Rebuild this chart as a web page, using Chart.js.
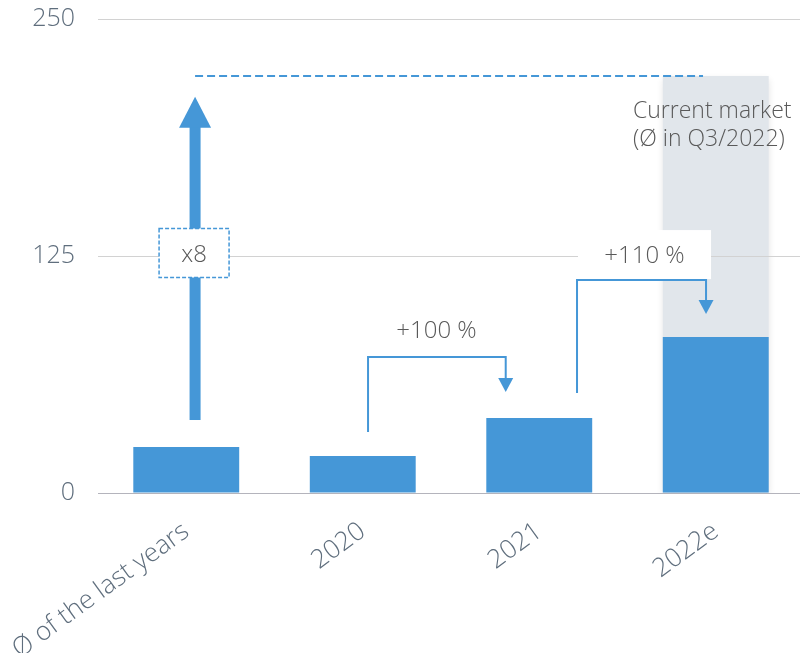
<!DOCTYPE html>
<html>
<head>
<meta charset="utf-8">
<script src="https://cdn.jsdelivr.net/npm/chart.js@4/dist/chart.umd.min.js"></script>
<style>
  html, body { margin: 0; padding: 0; background: #fff; overflow: hidden; }
  #wrap { width: 806px; height: 653px; }
</style>
</head>
<body>
<div id="wrap"><canvas id="c" width="806" height="653"></canvas></div>
<script>
// Market volume by period
const categories = ['Ø of the last years', '2020', '2021', '2022e'];
const volumes = [24.3, 19.5, 39.6, 82.3];
const currentMarket = [null, null, null, 220];
const yTicks = [0, 125, 250];

// Growth annotations (values in axis units)
const multiplierLabel = 'x8';
const multiplierArrow = [38.5, 209];          // shaft start, arrow tip
const growthLabels = ['+100 %', '+110 %'];
const growthSteps = [[32.2, 71.7, 53.3], [52.7, 112.3, 94.4]]; // start, bend, tip
const marketNote = ['Current market', '(Ø in Q3/2022)'];

const BLUE = '#4597d7';
const GRAY_BAND = '#e1e6eb';
const AXIS_TEXT = '#5f6e7d';
const NOTE_TEXT = '#595959';
const FONT = '"Open Sans", "Liberation Sans", sans-serif';
const WEIGHT = '350';

const bandShadow = {
  id: 'bandShadow',
  beforeDatasetDraw(chart, args) {
    if (args.index !== 1) return;
    const ctx = chart.ctx;
    ctx.save();
    ctx.shadowColor = 'rgba(0,0,0,0.12)';
    ctx.shadowBlur = 7;
    ctx.shadowOffsetY = 3;
  },
  afterDatasetDraw(chart, args) {
    if (args.index === 1) chart.ctx.restore();
  }
};

function stepArrow(ctx, x0, y0, yTop, x1, yTip) {
  const headW = 15, headH = 14;
  ctx.strokeStyle = BLUE;
  ctx.fillStyle = BLUE;
  ctx.lineWidth = 2;
  ctx.beginPath();
  ctx.moveTo(x0, y0);
  ctx.lineTo(x0, yTop);
  ctx.lineTo(x1, yTop);
  ctx.lineTo(x1, yTip - headH + 1);
  ctx.stroke();
  ctx.beginPath();
  ctx.moveTo(x1, yTip);
  ctx.lineTo(x1 - headW / 2, yTip - headH);
  ctx.lineTo(x1 + headW / 2, yTip - headH);
  ctx.closePath();
  ctx.fill();
}

const annotations = {
  id: 'annotations',
  afterDraw(chart) {
    const { ctx, scales: { x, y } } = chart;
    const cw = x.getPixelForValue(1) - x.getPixelForValue(0);
    const px = (i, f) => x.getPixelForValue(i) + f * cw;
    ctx.save();

    // dashed current-market level
    const mx = px(0, 0.05);
    const my = y.getPixelForValue(currentMarket[3]);
    ctx.strokeStyle = BLUE;
    ctx.lineWidth = 2;
    ctx.setLineDash([8, 4]);
    ctx.beginPath();
    ctx.moveTo(mx, my);
    ctx.lineTo(px(3, -0.072), my);
    ctx.stroke();
    ctx.setLineDash([]);

    // multiplier arrow
    const yb = y.getPixelForValue(multiplierArrow[0]);
    const yt = y.getPixelForValue(multiplierArrow[1]);
    const headH = 31, headW = 32, shaft = 11;
    ctx.fillStyle = BLUE;
    ctx.fillRect(mx - shaft / 2, yt + headH - 1, shaft, yb - yt - headH + 1);
    ctx.beginPath();
    ctx.moveTo(mx, yt);
    ctx.lineTo(mx + headW / 2, yt + headH);
    ctx.lineTo(mx - headW / 2, yt + headH);
    ctx.closePath();
    ctx.fill();

    // multiplier box
    const ly = y.getPixelForValue(125);
    const bw = 70, bh = 49;
    ctx.fillStyle = '#fff';
    ctx.fillRect(mx - bw / 2 - 1, ly - 3 - bh / 2, bw, bh);
    ctx.strokeStyle = BLUE;
    ctx.lineWidth = 1.5;
    ctx.setLineDash([4, 2]);
    ctx.strokeRect(mx - bw / 2 - 1, ly - 3 - bh / 2, bw, bh);
    ctx.setLineDash([]);
    ctx.font = WEIGHT + ' 24px ' + FONT;
    ctx.fillStyle = NOTE_TEXT;
    ctx.textAlign = 'center';
    ctx.textBaseline = 'middle';
    ctx.fillText(multiplierLabel, mx - 1, ly - 1);

    // growth steps
    const s1 = growthSteps[0];
    const a1x0 = px(1, 0.03), a1x1 = px(2, -0.19);
    const a1top = y.getPixelForValue(s1[1]);
    stepArrow(ctx, a1x0, y.getPixelForValue(s1[0]), a1top, a1x1, y.getPixelForValue(s1[2]));
    ctx.fillStyle = NOTE_TEXT;
    ctx.fillText(growthLabels[0], px(1, 0.418), a1top - 26);

    const s2 = growthSteps[1];
    const a2x0 = px(2, 0.214), a2x1 = px(3, -0.055);
    const a2top = y.getPixelForValue(s2[1]);
    // label panel
    ctx.fillStyle = '#fff';
    ctx.fillRect(a2x0 + 1, a2top - 50, a2x1 - a2x0 + 4, 49);
    stepArrow(ctx, a2x0, y.getPixelForValue(s2[0]), a2top, a2x1, y.getPixelForValue(s2[2]));
    ctx.fillStyle = NOTE_TEXT;
    ctx.fillText(growthLabels[1], (a2x0 + a2x1) / 2 + 3, a2top - 24);

    // current market note
    ctx.font = WEIGHT + ' 23px ' + FONT;
    ctx.textAlign = 'left';
    ctx.textBaseline = 'alphabetic';
    const nx = px(3, -0.469);
    ctx.fillText(marketNote[0], nx, my + 42);
    ctx.fillText(marketNote[1], nx, my + 70);

    ctx.restore();
  }
};

new Chart(document.getElementById('c'), {
  type: 'bar',
  data: {
    labels: categories,
    datasets: [
      {
        label: 'Volume',
        data: volumes,
        backgroundColor: BLUE,
        order: 0,
        grouped: false
      },
      {
        label: 'Current market',
        data: currentMarket,
        backgroundColor: GRAY_BAND,
        order: 1,
        grouped: false
      }
    ]
  },
  options: {
    responsive: false,
    animation: false,
    events: [],
    layout: { padding: { top: 19, right: 2, left: 0, bottom: 0 } },
    datasets: { bar: { categoryPercentage: 1, barPercentage: 0.6 } },
    plugins: { legend: { display: false }, tooltip: { enabled: false } },
    scales: {
      x: {
        grid: { display: false },
        border: { display: true, color: '#b4b4bc', width: 1 },
        ticks: {
          autoSkip: false,
          minRotation: 36,
          maxRotation: 36,
          padding: 15,
          color: AXIS_TEXT,
          font: { family: FONT, size: 26, weight: WEIGHT }
        },
        afterFit(scale) {
          scale.height = 160;
          scale.paddingLeft = 0;
          scale.paddingRight = 0;
        }
      },
      y: {
        min: 0,
        max: 250,
        afterBuildTicks(scale) {
          scale.ticks = yTicks.map(v => ({ value: v }));
        },
        grid: {
          z: 1,
          drawTicks: false,
          color: ctx => ctx.tick && ctx.tick.value === 0 ? '#b4b4bc' : '#d2d2d2',
          lineWidth: 1
        },
        border: { display: false },
        ticks: {
          padding: 23,
          color: AXIS_TEXT,
          font: { family: FONT, size: 25, weight: WEIGHT }
        },
        afterFit(scale) {
          scale.width = 98;
          scale.paddingTop = 0;
          scale.paddingBottom = 0;
        }
      }
    }
  },
  plugins: [bandShadow, annotations]
});
</script>
</body>
</html>
